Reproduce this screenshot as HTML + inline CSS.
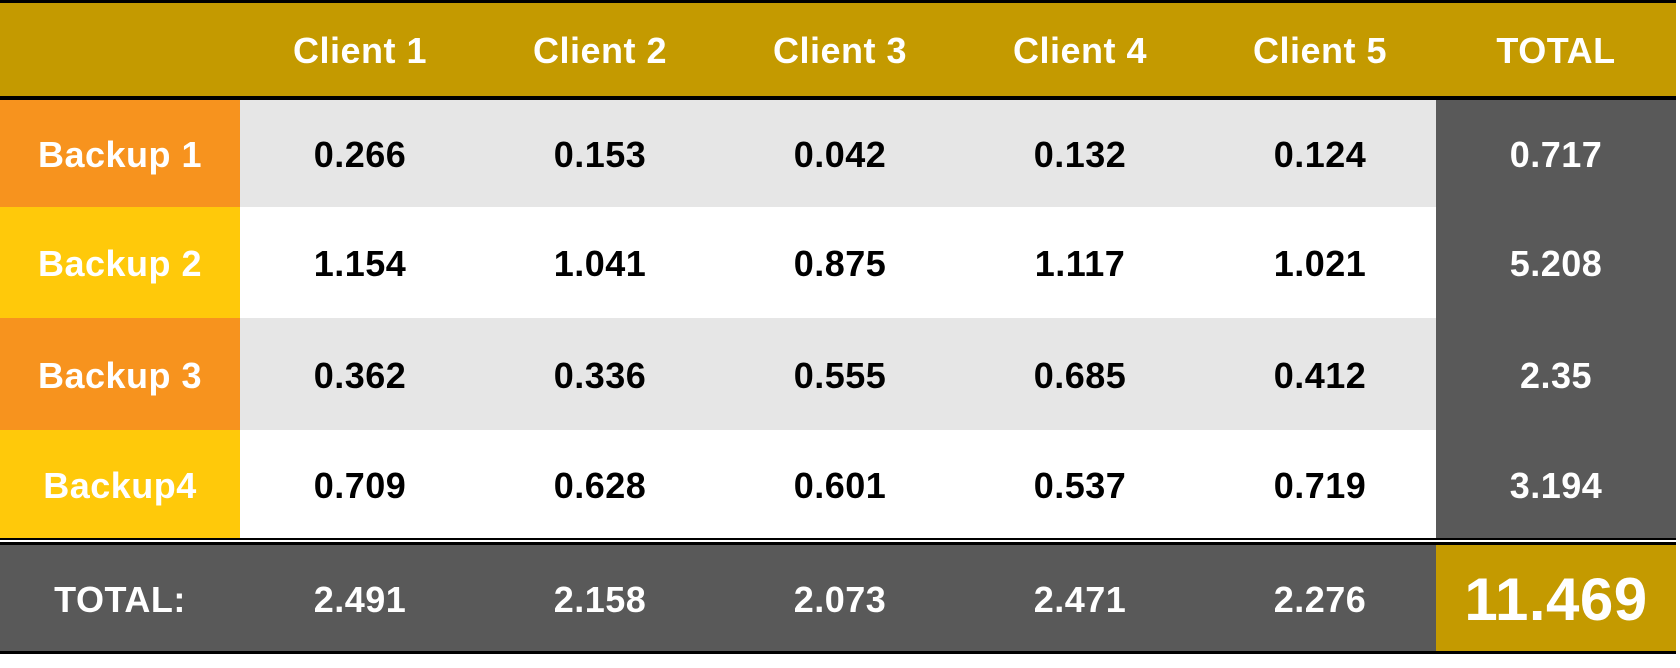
<!DOCTYPE html>
<html><head><meta charset="utf-8"><style>
html,body{margin:0;padding:0;width:1680px;height:668px;background:#fff;overflow:hidden}
body{font-family:"Liberation Sans","DejaVu Sans",sans-serif;font-weight:bold;position:relative}
.c{position:absolute;display:flex;align-items:center;justify-content:center;box-sizing:border-box;font-size:36px;letter-spacing:0.5px;padding-top:3px}
.line{position:absolute;left:0;width:1676px;background:#000}
.w{color:#fff}.k{color:#000}
</style></head><body>
<div class="line" style="top:0;height:3px"></div>
<div class="c" style="left:0;top:3px;width:1676px;height:93px;background:#C49A00"></div>
<div class="c w" style="left:240px;top:3px;width:240px;height:93px">Client 1</div>
<div class="c w" style="left:480px;top:3px;width:240px;height:93px">Client 2</div>
<div class="c w" style="left:720px;top:3px;width:240px;height:93px">Client 3</div>
<div class="c w" style="left:960px;top:3px;width:240px;height:93px">Client 4</div>
<div class="c w" style="left:1200px;top:3px;width:240px;height:93px">Client 5</div>
<div class="c w" style="left:1436px;top:3px;width:240px;height:93px">TOTAL</div>
<div class="line" style="top:96px;height:4px"></div>

<div class="c" style="left:240px;top:100px;width:1196px;height:107px;background:#E6E6E6"></div>
<div class="c" style="left:240px;top:318px;width:1196px;height:112px;background:#E6E6E6"></div>
<div class="c" style="left:1436px;top:100px;width:240px;height:438px;background:#595959"></div>

<div class="c w" style="left:0;top:100px;width:240px;height:107px;background:#F7931E">Backup 1</div>
<div class="c w" style="left:0;top:207px;width:240px;height:111px;background:#FFC90A">Backup 2</div>
<div class="c w" style="left:0;top:318px;width:240px;height:112px;background:#F7931E">Backup 3</div>
<div class="c w" style="left:0;top:430px;width:240px;height:108px;background:#FFC90A">Backup4</div>

<div class="c k" style="left:240px;top:100px;width:240px;height:107px">0.266</div>
<div class="c k" style="left:480px;top:100px;width:240px;height:107px">0.153</div>
<div class="c k" style="left:720px;top:100px;width:240px;height:107px">0.042</div>
<div class="c k" style="left:960px;top:100px;width:240px;height:107px">0.132</div>
<div class="c k" style="left:1200px;top:100px;width:240px;height:107px">0.124</div>
<div class="c w" style="left:1436px;top:100px;width:240px;height:107px">0.717</div>

<div class="c k" style="left:240px;top:207px;width:240px;height:111px">1.154</div>
<div class="c k" style="left:480px;top:207px;width:240px;height:111px">1.041</div>
<div class="c k" style="left:720px;top:207px;width:240px;height:111px">0.875</div>
<div class="c k" style="left:960px;top:207px;width:240px;height:111px">1.117</div>
<div class="c k" style="left:1200px;top:207px;width:240px;height:111px">1.021</div>
<div class="c w" style="left:1436px;top:207px;width:240px;height:111px">5.208</div>

<div class="c k" style="left:240px;top:318px;width:240px;height:112px">0.362</div>
<div class="c k" style="left:480px;top:318px;width:240px;height:112px">0.336</div>
<div class="c k" style="left:720px;top:318px;width:240px;height:112px">0.555</div>
<div class="c k" style="left:960px;top:318px;width:240px;height:112px">0.685</div>
<div class="c k" style="left:1200px;top:318px;width:240px;height:112px">0.412</div>
<div class="c w" style="left:1436px;top:318px;width:240px;height:112px">2.35</div>

<div class="c k" style="left:240px;top:430px;width:240px;height:108px">0.709</div>
<div class="c k" style="left:480px;top:430px;width:240px;height:108px">0.628</div>
<div class="c k" style="left:720px;top:430px;width:240px;height:108px">0.601</div>
<div class="c k" style="left:960px;top:430px;width:240px;height:108px">0.537</div>
<div class="c k" style="left:1200px;top:430px;width:240px;height:108px">0.719</div>
<div class="c w" style="left:1436px;top:430px;width:240px;height:108px">3.194</div>

<div class="line" style="top:538px;height:2px"></div>
<div class="line" style="top:542px;height:3px"></div>

<div class="c" style="left:0;top:545px;width:1436px;height:106px;background:#595959"></div>
<div class="c w" style="left:0;top:545px;width:240px;height:106px">TOTAL:</div>
<div class="c w" style="left:240px;top:545px;width:240px;height:106px">2.491</div>
<div class="c w" style="left:480px;top:545px;width:240px;height:106px">2.158</div>
<div class="c w" style="left:720px;top:545px;width:240px;height:106px">2.073</div>
<div class="c w" style="left:960px;top:545px;width:240px;height:106px">2.471</div>
<div class="c w" style="left:1200px;top:545px;width:240px;height:106px">2.276</div>
<div class="c w" style="left:1436px;top:545px;width:240px;height:106px;background:#C49A00;font-size:60px">11.469</div>
<div class="line" style="top:651px;height:3px"></div>
</body></html>
